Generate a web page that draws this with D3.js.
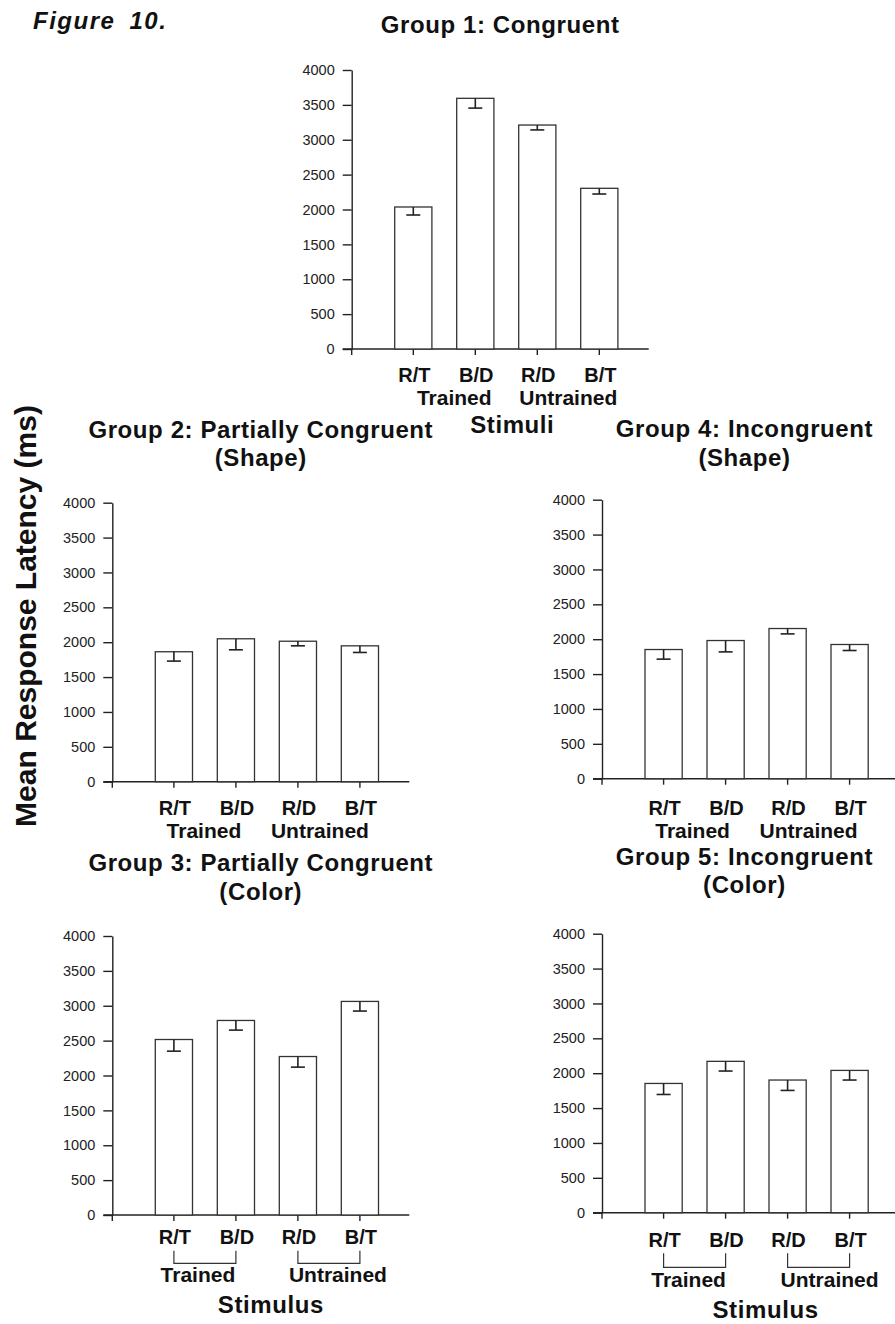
<!DOCTYPE html>
<html>
<head>
<meta charset="utf-8">
<script src="https://cdn.jsdelivr.net/npm/d3@7"></script>
<style>
  body { margin: 0; background: #fff; }
  svg { display: block; font-family: "Liberation Sans", Arial, sans-serif; }
  .domain, .tick line { stroke: #222; stroke-width: 1.4; }
  .bold { font-weight: bold; fill: #111; }
</style>
</head>
<body>
<div id="figure"></div>
<script>

// Stimulus categories and y ticks shared by all five panels
var categories = ["R/T", "B/D", "R/D", "B/T"]
var yTicks = [0, 500, 1000, 1500, 2000, 2500, 3000, 3500, 4000]

// Mean response latency (ms) and error (ms)
var g1Means = [2036, 3594, 3211, 2304]
var g1Err = [115, 140, 70, 82]

var g2Means = [1863, 2049, 2014, 1948]
var g2Err = [134, 158, 66, 95]

var g3Means = [2516, 2789, 2272, 3062]
var g3Err = [167, 138, 152, 138]

var g4Means = [1852, 1981, 2153, 1924]
var g4Err = [138, 163, 77, 86]

var g5Means = [1853, 2170, 1902, 2040]
var g5Err = [158, 139, 149, 138]

var width = 895, height = 1324
var plotW = 297, plotH = 279

var svg = d3.select("#figure")
	.append("svg")
	.attr("width", width)
	.attr("height", height)

svg.append("text")
	.attr("class", "bold")
	.attr("x", 33)
	.attr("y", 29)
	.style("font-size", "24px")
	.style("font-style", "italic")
	.style("letter-spacing", "1.5px")
	.style("word-spacing", "6px")
	.text("Figure 10.")

svg.append("text")
	.attr("class", "bold")
	.attr("transform", "translate(36,616) rotate(-90)")
	.attr("text-anchor", "middle")
	.style("font-size", "30px")
	.text("Mean Response Latency (ms)")

// panel layout: ax = y axis x, y0 = baseline y
var panels = [
	{ title: ["Group 1: Congruent"], titleY: [-37], titleDx: 0, means: g1Means, errs: g1Err, ax: 351.7, y0: 349,
	  catY: 33, groupY: 56, trainedDx: 10, untrainedDx: 0, bracket: null, stim: "Stimuli", stimY: 84, stimDx: 6 },
	{ title: ["Group 2: Partially Congruent", "(Shape)"], titleY: [-65, -37], titleDx: 0, means: g2Means, errs: g2Err, ax: 112.3, y0: 781.7,
	  catY: 33.5, groupY: 56.5, trainedDx: -1, untrainedDx: -9, bracket: null, stim: null },
	{ title: ["Group 4: Incongruent", "(Shape)"], titleY: [-63, -34], titleDx: -6, means: g4Means, errs: g4Err, ax: 602, y0: 778.7,
	  catY: 36.5, groupY: 59, trainedDx: -2, untrainedDx: -10, bracket: null, stim: null },
	{ title: ["Group 3: Partially Congruent", "(Color)"], titleY: [-65.5, -36.5], titleDx: 0, means: g3Means, errs: g3Err, ax: 112.3, y0: 1215,
	  catY: 28.5, groupY: 66.5, trainedDx: -7, untrainedDx: 9, bracket: [35.7, 48.3], stim: "Stimulus", stimY: 98.3, stimDx: 4 },
	{ title: ["Group 5: Incongruent", "(Color)"], titleY: [-69, -41], titleDx: -6, means: g5Means, errs: g5Err, ax: 602, y0: 1212.7,
	  catY: 34, groupY: 74, trainedDx: -6, untrainedDx: 11, bracket: [40.6, 54.6], stim: "Stimulus", stimY: 105.3, stimDx: 9 }
]

panels.forEach(function(p) {

	var top = p.y0 - plotH

	var yScale = d3.scaleLinear()
		.domain([0, 4000])
		.range([p.y0, top])

	var xScale = d3.scaleBand()
		.domain(categories)
		.range([p.ax + 30.6, p.ax + 278.6])
		.paddingInner(0.4)
		.paddingOuter(0.2)

	var cx = function(c) { return xScale(c) + xScale.bandwidth() / 2 }

	var g = svg.append("g")

	// titles
	p.title.forEach(function(t, i) {
		g.append("text")
			.attr("class", "bold")
			.attr("x", p.ax + plotW / 2 + p.titleDx)
			.attr("y", top + p.titleY[i])
			.attr("text-anchor", "middle")
			.style("font-size", "24px")
			.style("letter-spacing", "0.6px")
			.text(t)
	})

	// y axis
	g.append("g")
		.attr("transform", "translate(" + p.ax + ",0)")
		.call(d3.axisLeft(yScale).tickValues(yTicks).tickFormat(d3.format("d")).tickSize(9).tickSizeOuter(0).tickPadding(8))
		.call(function(a) {
			a.selectAll(".tick text")
				.style("font-family", "'Liberation Sans', Arial, sans-serif")
				.style("font-size", "14.5px")
				.style("fill", "#222")
		})

	g.append("line")
		.attr("x1", p.ax).attr("x2", p.ax)
		.attr("y1", p.y0).attr("y2", p.y0 + 6)
		.attr("stroke", "#222").attr("stroke-width", 1.4)

	// x axis
	g.append("line")
		.attr("x1", p.ax - 9).attr("x2", p.ax + plotW)
		.attr("y1", p.y0).attr("y2", p.y0)
		.attr("stroke", "#222").attr("stroke-width", 1.4)

	g.append("g")
		.attr("transform", "translate(0," + p.y0 + ")")
		.call(d3.axisBottom(xScale).tickSize(6).tickFormat(""))
		.call(function(a) { a.select(".domain").remove() })

	var rows = categories.map(function(c, i) { return { cat: c, mean: p.means[i], err: p.errs[i] } })

	// bars
	g.selectAll(".bar")
		.data(rows)
		.enter()
		.append("rect")
		.attr("class", "bar")
		.attr("x", function(d) { return xScale(d.cat) })
		.attr("y", function(d) { return yScale(d.mean) })
		.attr("width", xScale.bandwidth())
		.attr("height", function(d) { return yScale(0) - yScale(d.mean) })
		.attr("fill", "#fff")
		.attr("stroke", "#333")
		.attr("stroke-width", 1.3)

	// error bars (downward only)
	g.selectAll(".err")
		.data(rows)
		.enter()
		.append("line")
		.attr("x1", function(d) { return cx(d.cat) })
		.attr("x2", function(d) { return cx(d.cat) })
		.attr("y1", function(d) { return yScale(d.mean) })
		.attr("y2", function(d) { return yScale(d.mean - d.err) })
		.attr("stroke", "#222").attr("stroke-width", 1.6)

	g.selectAll(".cap")
		.data(rows)
		.enter()
		.append("line")
		.attr("x1", function(d) { return cx(d.cat) - 7 })
		.attr("x2", function(d) { return cx(d.cat) + 7 })
		.attr("y1", function(d) { return yScale(d.mean - d.err) })
		.attr("y2", function(d) { return yScale(d.mean - d.err) })
		.attr("stroke", "#222").attr("stroke-width", 1.6)

	// category labels
	g.selectAll(".cat")
		.data(categories)
		.enter()
		.append("text")
		.attr("class", "bold")
		.attr("x", function(c) { return cx(c) + 1 })
		.attr("y", p.y0 + p.catY)
		.attr("text-anchor", "middle")
		.style("font-size", "20px")
		.text(function(c) { return c })

	var trainedMid = (cx("R/T") + cx("B/D")) / 2
	var untrainedMid = (cx("R/D") + cx("B/T")) / 2

	if (p.bracket) {
		[["R/T", "B/D"], ["R/D", "B/T"]].forEach(function(pair) {
			g.append("path")
				.attr("d", "M" + cx(pair[0]) + "," + (p.y0 + p.bracket[0]) +
					"V" + (p.y0 + p.bracket[1]) +
					"H" + cx(pair[1]) +
					"V" + (p.y0 + p.bracket[0]))
				.attr("fill", "none")
				.attr("stroke", "#333")
				.attr("stroke-width", 1.2)
		})
	}

	g.append("text")
		.attr("class", "bold")
		.attr("x", trainedMid + p.trainedDx)
		.attr("y", p.y0 + p.groupY)
		.attr("text-anchor", "middle")
		.style("font-size", "21px")
		.text("Trained")

	g.append("text")
		.attr("class", "bold")
		.attr("x", untrainedMid + p.untrainedDx)
		.attr("y", p.y0 + p.groupY)
		.attr("text-anchor", "middle")
		.style("font-size", "21px")
		.text("Untrained")

	if (p.stim) {
		g.append("text")
			.attr("class", "bold")
			.attr("x", (cx("R/T") + cx("B/T")) / 2 + p.stimDx)
			.attr("y", p.y0 + p.stimY)
			.attr("text-anchor", "middle")
			.style("font-size", "24px")
			.style("letter-spacing", "0.6px")
			.text(p.stim)
	}

})

</script>
</body>
</html>
